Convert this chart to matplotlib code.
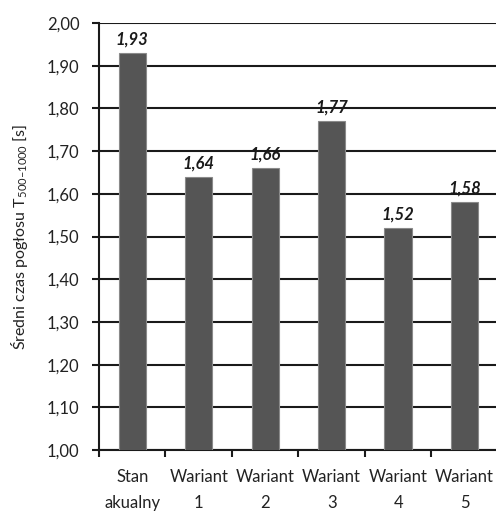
import numpy as np
import matplotlib.pyplot as plt

plt.rcParams['font.family'] = ['Lato', 'DejaVu Sans']
plt.rcParams['mathtext.fontset'] = 'custom'
plt.rcParams['mathtext.rm'] = 'Lato'
plt.rcParams['mathtext.it'] = 'Lato:italic'
plt.rcParams['mathtext.bf'] = 'Lato:bold'

kategorie = ['Stan\nakualny', 'Wariant\n1', 'Wariant\n2', 'Wariant\n3', 'Wariant\n4', 'Wariant\n5']
czas = [1.93, 1.64, 1.66, 1.77, 1.52, 1.58]
etykiety = ['1,93', '1,64', '1,66', '1,77', '1,52', '1,58']
yticks = np.round(np.arange(1.0, 2.001, 0.1), 2)

fig = plt.figure(figsize=(4.96, 5.12), dpi=100)
ax = fig.add_axes([0.1996, 0.121, 0.804, 0.834])

x = np.arange(len(czas))
ax.bar(x, czas, width=0.41, bottom=0, color='#555555', edgecolor='#8a8a8a', linewidth=0.8, zorder=3)

for xi, v, t in zip(x, czas, etykiety):
    ax.annotate(t, (xi, v), xytext=(0, 4), textcoords='offset points', ha='center', va='bottom',
                fontsize=12, fontweight='bold', fontstyle='italic', color='#1a1a1a', zorder=4)

ax.set_ylim(1.0, 2.0)
ax.set_xlim(-0.5, len(czas) - 0.5)
ax.set_yticks(yticks)
ax.set_yticklabels([f'{v:.2f}'.replace('.', ',') for v in yticks], fontsize=12, color='#222222')
ax.yaxis.grid(True, color='#1a1a1a', linewidth=1.5, zorder=0)
ax.tick_params(axis='y', length=5, width=1.5, color='#1a1a1a', pad=9)

# kreski na granicach kategorii, podpisy na środku
ax.set_xticks(np.arange(-0.5, len(czas), 1.0))
ax.set_xticklabels([])
ax.tick_params(axis='x', which='major', length=5, width=1.5, color='#1a1a1a')
ax.set_xticks(x, minor=True)
ax.set_xticklabels(kategorie, minor=True, fontsize=12, color='#222222', linespacing=1.75)
ax.tick_params(axis='x', which='minor', length=0, pad=14)

for s in ['top', 'right']:
    ax.spines[s].set_visible(False)
for s in ['left', 'bottom']:
    ax.spines[s].set_linewidth(1.5)
    ax.spines[s].set_color('#1a1a1a')

ax.set_ylabel('Średni czas pogłosu T$_{\\mathregular{500\u20131000}}$ [s]', fontsize=11.5,
              color='#222222', labelpad=12)

fig.savefig('out.png', dpi=100)
